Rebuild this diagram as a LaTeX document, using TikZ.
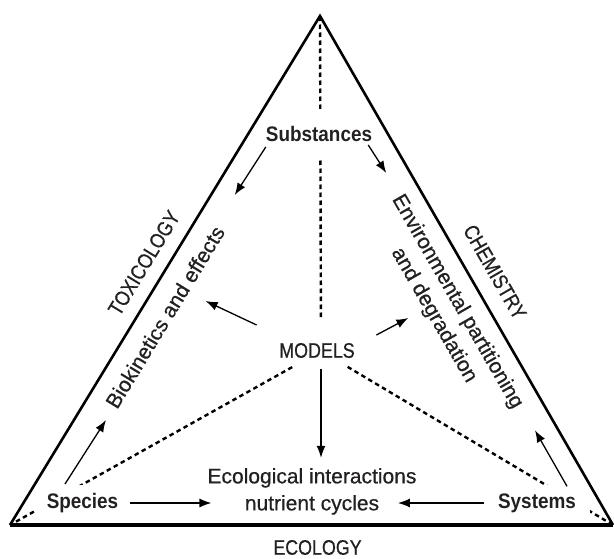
\documentclass[tikz,border=0pt]{standalone}
\usepackage{fontspec}
\setmainfont{Liberation Sans}[FakeBold=0.6]
\newfontfamily\capsfont{Liberation Sans}[FakeStretch=0.85,FakeBold=0.6]
\newfontfamily\narrowfont{Liberation Sans}[FakeStretch=0.9]
\usetikzlibrary{arrows.meta,positioning,calc,backgrounds}
\definecolor{ink}{RGB}{35,32,32}
\tikzset{
  side/.style={draw=black, line width=2.6pt, line join=miter},
  base/.style={draw=black, line width=3.4pt},
  link/.style={draw=black, line width=2.4pt, dash pattern=on 4.5pt off 3.5pt},
  flow/.style={-{Latex[length=12pt,width=9pt]}, line width=1.3pt, draw=black},
  topic/.style={font=\capsfont\fontsize{21}{27}\selectfont, text=ink, inner sep=0pt},
  item/.style={font=\fontsize{21}{27}\selectfont, text=ink, align=center, inner sep=0pt},
  actor/.style={font=\narrowfont\bfseries\fontsize{21}{27}\selectfont, text=ink, fill=white, inner xsep=12pt, inner ysep=8pt}
}
\begin{document}
\begin{tikzpicture}[x=1pt,y=-1pt]
\useasboundingbox (0,0) rectangle (614,559);
% corners of the triangle
\coordinate (apex) at (320,16);
\coordinate (bl) at (10,525);
\coordinate (br) at (613,525);
\coordinate (hub) at (321,351);
% inner texts
\node[topic] (models) at (317,350.5) {MODELS};
\node[actor,inner xsep=3pt,inner ysep=17pt] (substances) at (319,134) {Substances};
\node[actor] (species) at (82.5,503) {Species};
\node[actor,inner xsep=14pt] (systems) at (537,503) {Systems};
\node[item] (interactions) at (312,491.4) {Ecological interactions\\nutrient cycles};
\node[item,rotate=58.65] (biokinetics) at (165,317) {Biokinetics and effects};
\node[item,rotate=-60.07] (partitioning) at (445.5,308.5) {Environmental partitioning\\and degradation};
% sides
\node[topic,rotate=58.65] (toxicology) at (144,263) {TOXICOLOGY};
\node[topic,rotate=-60.07] (chemistry) at (495,272) {CHEMISTRY};
\node[topic] (ecology) at (317.5,547.5) {ECOLOGY};
\begin{scope}[on background layer]
\draw[link,shorten <=34pt] (hub) -- (apex);
\draw[link,shorten <=33pt] (hub) -- (bl);
\draw[link,shorten <=31pt] (hub) -- (br);
\end{scope}
\draw[side] (bl) -- (apex) -- (br);
\draw[base] (bl) -- (br);
% arrows
\draw[flow] ($(substances.west)+(3,13)$) -- +(-31,48);
\draw[flow] ($(substances.east)+(-7,11)$) -- +(18,28);
\draw[flow] ($(models.west)+(-22.5,-25.5)$) -- +(-51,-24);
\draw[flow] ($(models.east)+(21.5,-15.5)$) -- +(32,-17);
\draw[flow] ($(models.south)+(4,10.7)$) -- +(0,89);
\draw[flow] ($(species.north)+(-17.5,-1)$) -- +(41,-64);
\draw[flow] ($(systems.north)+(30,1)$) -- +(-32,-56);
\draw[flow] (species.east) -- +(81,0);
\draw[flow] (systems.west) -- +(-86,0);
\end{tikzpicture}
\end{document}
